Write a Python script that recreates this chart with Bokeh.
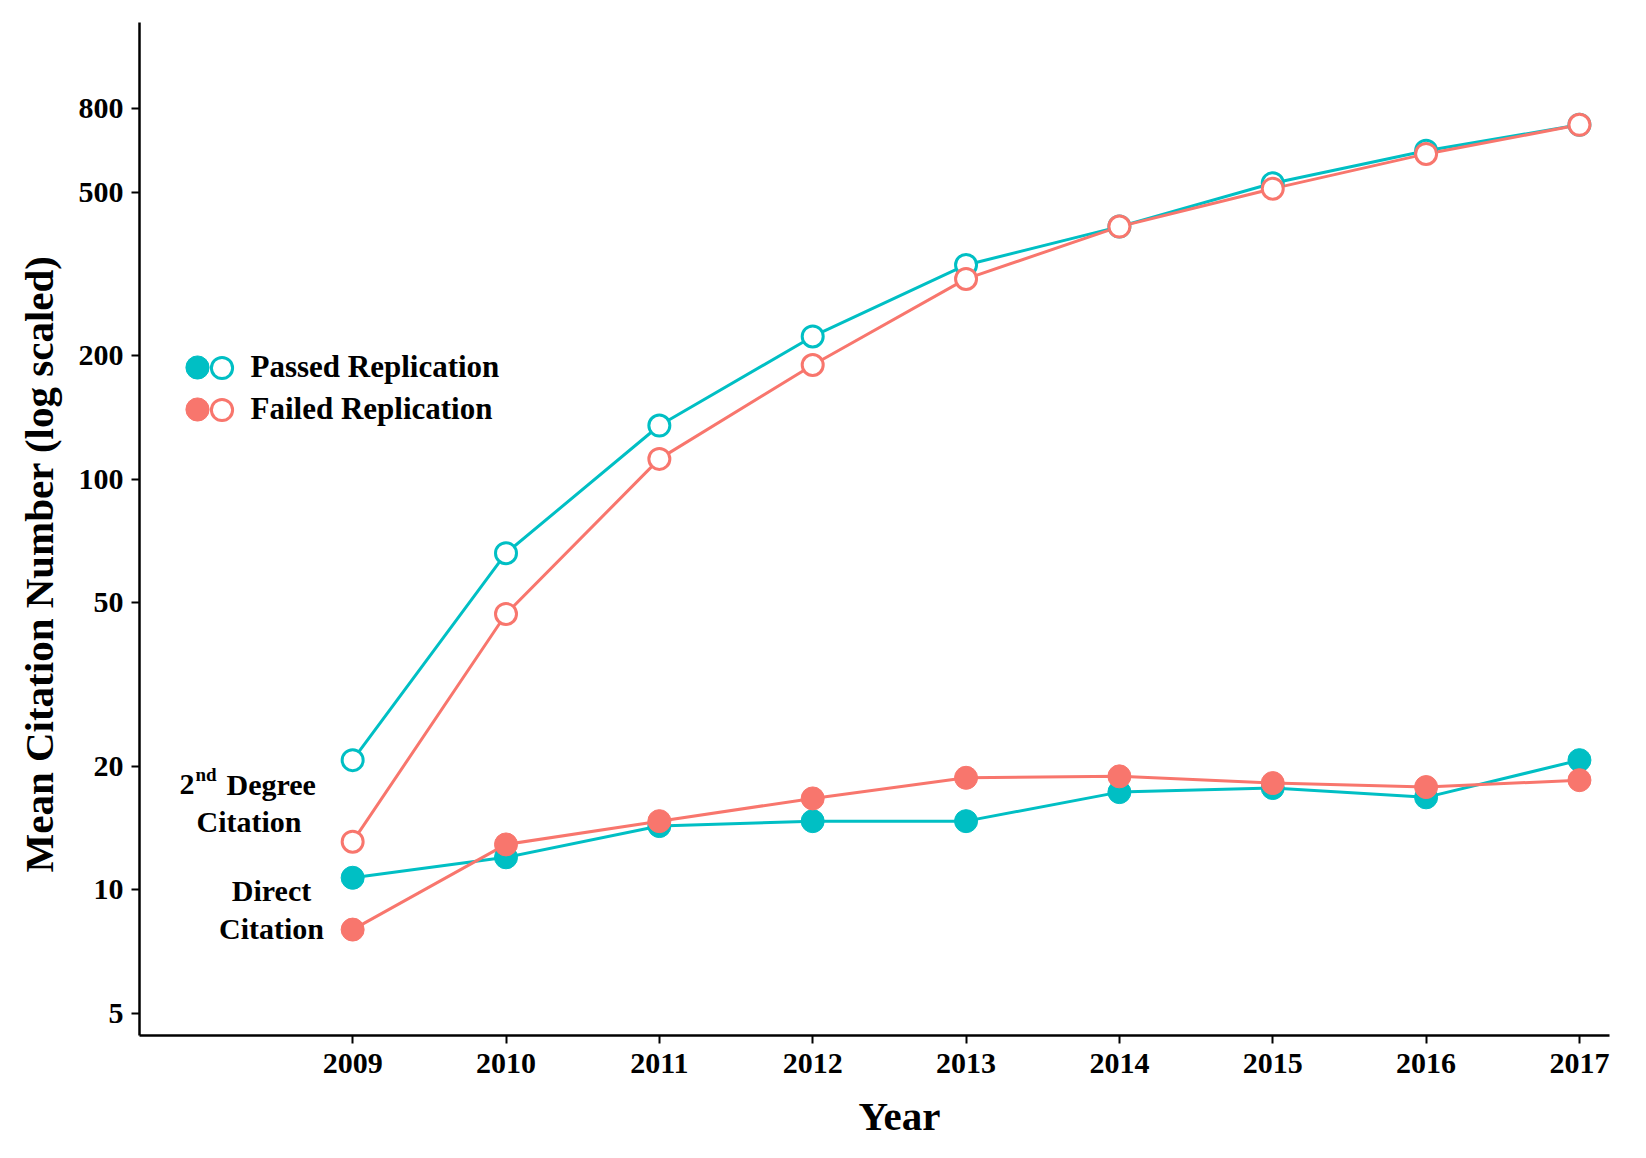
from bokeh.plotting import figure
from bokeh.models import (Range1d, FixedTicker, Label, Legend, LegendItem, Title)
from bokeh.embed import file_html
from bokeh.resources import INLINE

# ---- data ----
years = [2009, 2010, 2011, 2012, 2013, 2014, 2015, 2016, 2017]
passed_2nd = [20.7, 66.1, 135.3, 223, 333, 413, 527, 632, 731]
failed_2nd = [13.1, 47.0, 112.2, 190, 308, 413, 511, 621, 731]
passed_direct = [10.7, 12.0, 14.3, 14.7, 14.7, 17.3, 17.7, 16.8, 20.7]
failed_direct = [8.0, 12.9, 14.7, 16.7, 18.75, 18.9, 18.2, 17.8, 18.5]
y_ticks = [5, 10, 20, 50, 100, 200, 500, 800]
y_tick_labels = ["5", "10", "20", "50", "100", "200", "500", "800"]
x_tick_labels = [str(y) for y in years]
series_names = ["Passed Replication", "Failed Replication"]

TEAL = "#00BFC4"
RED = "#F8766D"
FONT = "Liberation Serif"

p = figure(frame_width=1470, frame_height=1013,
           x_range=Range1d(2007.61, 2017.196),
           y_range=Range1d(4.416, 1298),
           y_axis_type="log",
           output_backend="svg", toolbar_location=None,
           min_border_left=139, min_border_top=22,
           min_border_right=21, min_border_bottom=100)
p.outline_line_color = None
p.xgrid.visible = False
p.ygrid.visible = False
p.background_fill_color = "white"
p.border_fill_color = "white"

for ax in (p.xaxis[0], p.yaxis[0]):
    ax.axis_line_color = "black"
    ax.axis_line_width = 2.5
    ax.major_tick_line_color = "black"
    ax.major_tick_line_width = 2
    ax.major_tick_out = 8
    ax.major_tick_in = 0
    ax.minor_tick_line_color = None
    ax.major_label_text_font = FONT
    ax.major_label_text_font_style = "bold"
    ax.major_label_text_font_size = "30px"
    ax.major_label_text_color = "black"

p.xaxis.ticker = FixedTicker(ticks=years)
p.xaxis.major_label_overrides = {y: l for y, l in zip(years, x_tick_labels)}
p.xaxis.major_label_standoff = 10
p.yaxis.ticker = FixedTicker(ticks=y_ticks)
p.yaxis.major_label_standoff = 8
p.yaxis.major_label_overrides = {t: l for t, l in zip(y_ticks, y_tick_labels)}

# ---- axis titles (as side-panel titles so they can be offset) ----
p.add_layout(Title(text="Year", align="left", offset=719,
                   text_font=FONT, text_font_style="bold", text_font_size="41px",
                   text_color="black", standoff=31), "below")
p.add_layout(Title(text="Mean Citation Number (log scaled)", align="left", offset=163,
                   text_font=FONT, text_font_style="bold", text_font_size="41px",
                   text_color="black", standoff=27), "left")

# ---- lines ----
p.line(years, passed_direct, line_color=TEAL, line_width=3)
p.line(years, passed_2nd, line_color=TEAL, line_width=3)
p.line(years, failed_direct, line_color=RED, line_width=3)
p.line(years, failed_2nd, line_color=RED, line_width=3)

# ---- points ----
r_pd = p.scatter(years, passed_direct, size=23, fill_color=TEAL, line_color=TEAL, line_width=1)
r_p2 = p.scatter(years, passed_2nd, size=21, fill_color="white", line_color=TEAL, line_width=3)
r_fd = p.scatter(years, failed_direct, size=23, fill_color=RED, line_color=RED, line_width=1)
r_f2 = p.scatter(years, failed_2nd, size=21, fill_color="white", line_color=RED, line_width=3)

# ---- legend (filled + open markers side by side) ----
def make_legend(renderer, label, loc, glyph):
    lg = Legend(items=[LegendItem(label=label, renderers=[renderer])],
                location=loc, orientation="vertical",
                glyph_width=glyph, glyph_height=glyph,
                padding=0, margin=0, spacing=0, label_standoff=3,
                background_fill_alpha=0, border_line_color=None,
                label_text_font=FONT, label_text_font_style="bold",
                label_text_font_size="31px", label_text_color="black",
                label_text_baseline="middle")
    p.add_layout(lg, "center")

make_legend(r_pd, " ", (29, 639), 58)
make_legend(r_p2, series_names[0], (55.5, 641.5), 53)
make_legend(r_fd, " ", (29, 597), 58)
make_legend(r_f2, series_names[1], (55.5, 599.5), 53)

# ---- annotations ----
def lab(x, y, text, size="30px", align="left"):
    p.add_layout(Label(x=x, y=y, x_units="screen", y_units="screen", text=text,
                       text_font=FONT, text_font_style="bold", text_font_size=size,
                       text_align=align, text_baseline="alphabetic",
                       text_color="black"))

lab(40, 251.5, "2")
lab(56, 261.5, "nd", size="19px")
lab(87, 251.5, "Degree")
lab(109.5, 214, "Citation", align="center")
lab(132, 145, "Direct", align="center")
lab(132, 107.5, "Citation", align="center")

open("out.html", "w").write(file_html(p, INLINE))
